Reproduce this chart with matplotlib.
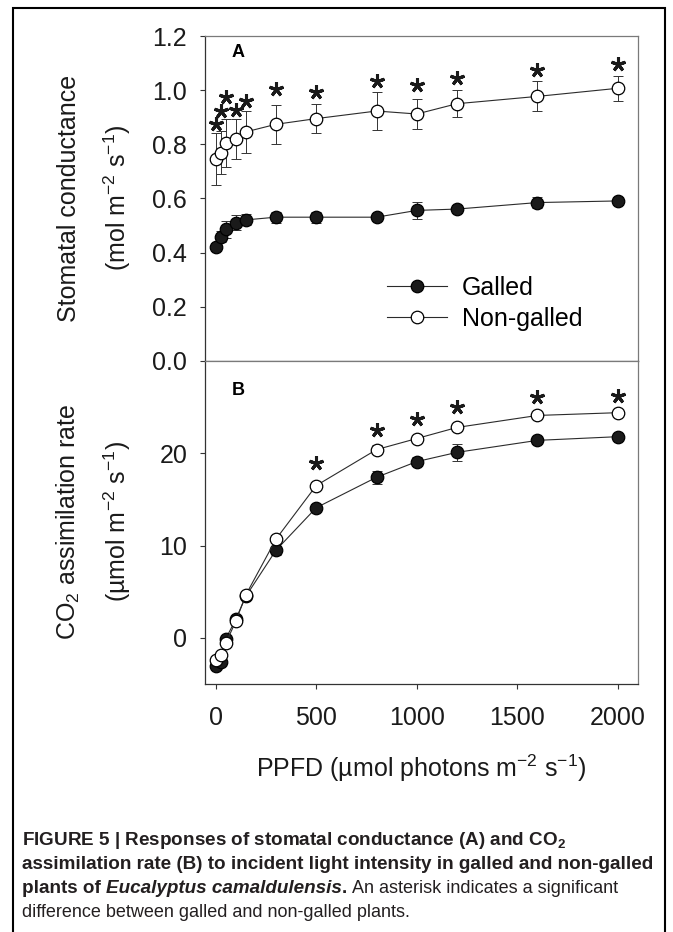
import matplotlib
matplotlib.use('Agg')
import matplotlib.pyplot as plt
from matplotlib.patches import Rectangle

plt.rcParams['font.family'] = ['Liberation Sans', 'DejaVu Sans']
plt.rcParams['mathtext.fontset'] = 'custom'
plt.rcParams['mathtext.rm'] = 'Liberation Sans'
plt.rcParams['mathtext.it'] = 'Liberation Sans:italic'
plt.rcParams['mathtext.bf'] = 'Liberation Sans:bold'
plt.rcParams['mathtext.default'] = 'regular'

# PPFD levels (umol photons m-2 s-1)
ppfd = [0, 25, 50, 100, 150, 300, 500, 800, 1000, 1200, 1600, 2000]

# panel A: stomatal conductance
gs_galled = [0.421, 0.459, 0.486, 0.511, 0.521, 0.531, 0.531, 0.531, 0.556, 0.561, 0.585, 0.591]
gs_galled_err = [0.015, 0.02, 0.03, 0.027, 0.02, 0.02, 0.02, 0.015, 0.03, 0.015, 0.02, 0.015]
gs_non = [0.745, 0.769, 0.804, 0.821, 0.846, 0.874, 0.895, 0.923, 0.912, 0.950, 0.977, 1.007]
gs_non_err = [0.096, 0.08, 0.088, 0.074, 0.077, 0.072, 0.055, 0.07, 0.057, 0.05, 0.055, 0.046]
sig_a_x = ppfd
sig_a_y = [0.875, 0.924, 0.974, 0.927, 0.961, 1.003, 0.995, 1.034, 1.019, 1.044, 1.075, 1.096]

# panel B: CO2 assimilation rate
a_galled = [-3.06, -2.6, -0.1, 2.0, 4.5, 9.5, 14.1, 17.4, 19.1, 20.1, 21.4, 21.8]
a_galled_err = [0.3, 0.3, 0.3, 0.3, 0.3, 0.5, 0.4, 0.7, 0.5, 0.9, 0.4, 0.3]
a_non = [-2.4, -1.9, -0.6, 1.8, 4.65, 10.7, 16.5, 20.4, 21.6, 22.8, 24.1, 24.4]
a_non_err = [0.4, 0.3, 0.4, 0.3, 0.3, 0.4, 0.4, 0.5, 0.4, 0.4, 0.3, 0.3]
sig_b_x = [500, 800, 1000, 1200, 1600, 2000]
sig_b_y = [18.9, 22.5, 23.7, 25.0, 26.1, 26.2]

W, H = 673, 932
fig = plt.figure(figsize=(W / 100, H / 100), dpi=100)

ax_a = fig.add_axes([205 / W, 1 - 361 / H, 433 / W, 325 / H])
ax_b = fig.add_axes([205 / W, 1 - 684 / H, 433 / W, 323 / H])

line_kw = dict(color='#2b2b2b', lw=0.8, ms=9, mew=0.9, mec='black', zorder=3)
err_kw = dict(fmt='none', ecolor='#333333', elinewidth=0.7, capsize=3.5, capthick=0.7, zorder=2)
star_kw = dict(ls='none', marker=(5, 2, 0), ms=10.5, mew=2.2, color='#1a1a1a', zorder=4)


def panel(ax, g, ge, n, ne, sx, sy):
    ax.errorbar(ppfd, g, yerr=ge, **err_kw)
    ax.errorbar(ppfd, n, yerr=ne, **err_kw)
    ax.plot(ppfd, g, marker='o', mfc='#1a1a1a', label='Galled', **line_kw)
    ax.plot(ppfd, n, marker='o', mfc='white', label='Non-galled', **line_kw)
    ax.plot(sx, sy, **star_kw)
    ax.set_xlim(-53, 2100)
    ax.set_xticks([0, 500, 1000, 1500, 2000])
    for s in ['left', 'bottom']:
        ax.spines[s].set_color('#333333')
        ax.spines[s].set_linewidth(0.9)
    for s in ['top', 'right']:
        ax.spines[s].set_color('#7a7a7a')
        ax.spines[s].set_linewidth(0.9)
    ax.tick_params(direction='out', length=3.8, width=0.8, color='#333333',
                   labelsize=18, labelcolor='#1a1a1a')
    ax.tick_params(axis='y', pad=9)
    ax.tick_params(axis='x', pad=12)


panel(ax_a, gs_galled, gs_galled_err, gs_non, gs_non_err, sig_a_x, sig_a_y)
ax_a.set_ylim(0, 1.2)
ax_a.set_yticks([0.0, 0.2, 0.4, 0.6, 0.8, 1.0, 1.2])
ax_a.set_yticklabels(['0.0', '0.2', '0.4', '0.6', '0.8', '1.0', '1.2'])
ax_a.tick_params(axis='x', labelbottom=False)
ax_a.text(0.076, 0.95, 'A', transform=ax_a.transAxes, fontsize=13, fontweight='bold',
          ha='center', va='center')
ax_a.legend(loc='center left', bbox_to_anchor=(0.42, 0.177), frameon=False, fontsize=18,
            handlelength=2.4, handletextpad=0.6, labelspacing=0.3, borderpad=0, borderaxespad=0)

panel(ax_b, a_galled, a_galled_err, a_non, a_non_err, sig_b_x, sig_b_y)
ax_b.set_ylim(-5, 30)
ax_b.set_yticks([0, 10, 20])
ax_b.text(0.076, 0.91, 'B', transform=ax_b.transAxes, fontsize=13, fontweight='bold',
          ha='center', va='center')

# axis titles
lab = dict(fontsize=18, color='#1a1a1a', rotation=90, rotation_mode='anchor', ha='center', va='baseline')
fig.text(76 / W, 1 - 198 / H, 'Stomatal conductance', **lab)
fig.text(126 / W, 1 - 198 / H, r'(mol m$^{-2}$ s$^{-1}$)', **lab)
fig.text(76 / W, 1 - 522 / H, r'CO$_2$ assimilation rate', **lab)
fig.text(126 / W, 1 - 522 / H, r'(µmol m$^{-2}$ s$^{-1}$)', **lab)
fig.text(421 / W, 1 - 768 / H, r'PPFD (µmol photons m$^{-2}$ s$^{-1}$)', fontsize=18,
         color='#1a1a1a', ha='center', va='center')

# frame round the figure
fig.add_artist(Rectangle((13 / W, -0.05), 652 / W, 1.05 - 8 / H, transform=fig.transFigure,
                         fill=False, ec='black', lw=1.5))

# caption
cap_family = ['Liberation Sans']
renderer = fig.canvas.get_renderer()


def space_width(size, weight, style):
    t1 = fig.text(0, 0, 'a a', fontsize=size, fontweight=weight, fontstyle=style, family=cap_family)
    t2 = fig.text(0, 0, 'aa', fontsize=size, fontweight=weight, fontstyle=style, family=cap_family)
    w = t1.get_window_extent(renderer).width - t2.get_window_extent(renderer).width
    t1.remove()
    t2.remove()
    return w


def caption_line(y, parts):
    x = 22
    for s, weight, style in parts:
        size = 13.6 if weight == 'bold' else 13
        lead = len(s) - len(s.lstrip(' '))
        x += lead * space_width(size, weight, style)
        body = s.strip(' ')
        t = fig.text(x / W, 1 - y / H, body, fontsize=size, fontweight=weight, fontstyle=style,
                     family=cap_family, color='#231f20', va='baseline')
        x = t.get_window_extent(renderer).x1
        trail = len(s) - len(s.rstrip(' '))
        x += trail * space_width(size, weight, style)


caption_line(845, [('FIGURE 5 | Responses of stomatal conductance (A) and CO$_2$', 'bold', 'normal')])
caption_line(869, [('assimilation rate (B) to incident light intensity in galled and non-galled', 'bold', 'normal')])
caption_line(893, [('plants of ', 'bold', 'normal'), ('Eucalyptus camaldulensis', 'bold', 'italic'),
                   ('.', 'bold', 'normal'), (' An asterisk indicates a significant', 'normal', 'normal')])
caption_line(917, [('difference between galled and non-galled plants.', 'normal', 'normal')])

fig.savefig('out.png', dpi=100)
